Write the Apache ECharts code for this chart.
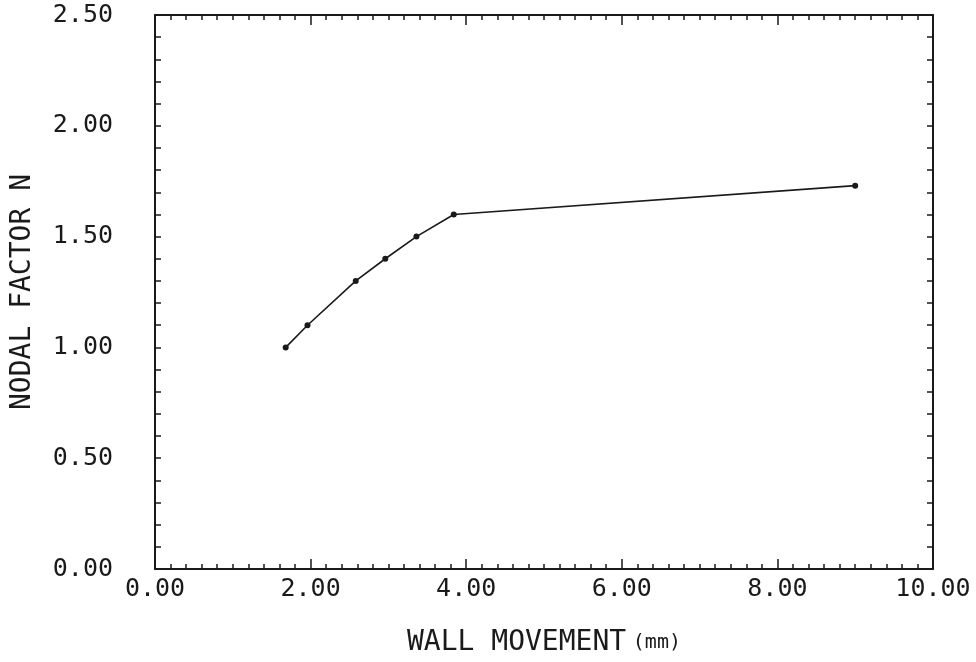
<!DOCTYPE html>
<html>
<head>
<meta charset="utf-8">
<script src="https://cdn.jsdelivr.net/npm/echarts@6/dist/echarts.min.js"></script>
<style>
  html, body { margin: 0; padding: 0; background: #fff; }
  #chart { width: 976px; height: 662px; }
</style>
</head>
<body>
<div id="chart"></div>
<script>
// wall movement (mm)
var wallMovement = [1.68, 1.96, 2.58, 2.96, 3.36, 3.84, 9.0];
// nodal factor N
var nodalFactor = [1.00, 1.10, 1.30, 1.40, 1.50, 1.60, 1.73];

var xTitle = "WALL MOVEMENT";
var xUnit = "(mm)";
var yTitle = "NODAL FACTOR N";

var font = "DejaVu Sans Mono";
var ink = "#1a1a1a";

var points = wallMovement.map(function (x, i) {
  return [x, nodalFactor[i]];
});

// 框线和刻度
function xAxisOf(pos, showLabel) {
  return {
    type: "value",
    position: pos,
    min: 0,
    max: 10,
    interval: 2,
    name: showLabel ? "{a|" + xTitle + "}  {b|" + xUnit + "}" : "",
    nameLocation: "middle",
    nameGap: 60,
    nameTextStyle: {
      rich: {
        a: { fontFamily: font, fontSize: 28, color: ink },
        b: { fontFamily: font, fontSize: 20, color: ink }
      }
    },
    axisLine: { show: true, onZero: false, lineStyle: { color: ink, width: 2 } },
    axisTick: { show: true, inside: true, length: 10, lineStyle: { color: ink, width: 1.5 } },
    minorTick: { show: true, splitNumber: 10, length: 5, lineStyle: { color: ink, width: 1.5 } },
    axisLabel: {
      show: showLabel,
      margin: 8,
      fontFamily: font,
      fontSize: 25,
      color: ink,
      formatter: function (v) { return v.toFixed(2); }
    },
    splitLine: { show: false }
  };
}

function yAxisOf(pos, showLabel) {
  return {
    type: "value",
    position: pos,
    min: 0,
    max: 2.5,
    interval: 0.5,
    name: showLabel ? yTitle : "",
    nameLocation: "middle",
    nameGap: 118,
    nameTextStyle: { fontFamily: font, fontSize: 28, color: ink },
    axisLine: { show: true, onZero: false, lineStyle: { color: ink, width: 2 } },
    axisTick: { show: true, inside: true, length: 6, lineStyle: { color: ink, width: 1.5 } },
    minorTick: { show: true, splitNumber: 5, length: 6, lineStyle: { color: ink, width: 1.5 } },
    axisLabel: {
      show: showLabel,
      margin: 42,
      fontFamily: font,
      fontSize: 25,
      color: ink,
      formatter: function (v) { return v.toFixed(2); }
    },
    splitLine: { show: false }
  };
}

var option = {
  backgroundColor: "#fff",
  animation: false,
  grid: { left: 155, right: 43, top: 15, bottom: 92 },
  xAxis: [xAxisOf("bottom", true), xAxisOf("top", false)],
  yAxis: [yAxisOf("left", true), yAxisOf("right", false)],
  series: [
    {
      type: "line",
      data: points,
      symbol: "circle",
      symbolSize: 6,
      itemStyle: { color: ink },
      lineStyle: { color: ink, width: 1.6 }
    }
  ]
};

var myChart = echarts.init(document.getElementById("chart"));
myChart.setOption(option);
window.addEventListener("resize", function () {
  myChart.resize();
});
</script>
</body>
</html>
